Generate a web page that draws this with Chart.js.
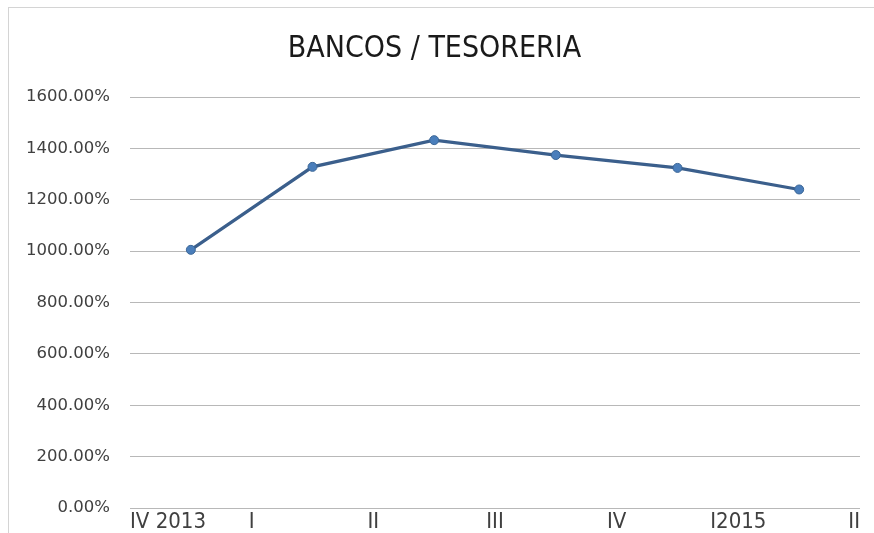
<!DOCTYPE html>
<html>
<head>
<meta charset="utf-8">
<script src="https://cdn.jsdelivr.net/npm/chart.js@4"></script>
<style>
  html, body { margin: 0; padding: 0; background: #fff; }
  #caja {
    position: absolute; left: 8px; top: 7px;
    width: 866px; height: 526px;
    border-left: 1px solid #d4d4d4; border-top: 1px solid #d4d4d4;
  }
</style>
</head>
<body>
<div id="caja"><canvas id="grafica" width="865" height="525"></canvas></div>
<script>
// periodos de los puntos y etiquetas del eje
const categorias = ['IV 2013', 'I', 'II', 'III', 'IV', 'I2015'];
const etiquetasEje = ['IV 2013', 'I', 'II', 'III', 'IV', 'I2015', 'II'];
const valores = [1005, 1328, 1432, 1374, 1324, 1240];
const titulo = 'BANCOS / TESORERIA';

const fuenteCond = "'DejaVu Sans Condensed', 'DejaVu Sans', sans-serif";

new Chart(document.getElementById('grafica'), {
    type: 'line',
    data: {
        labels: categorias,
        datasets: [{
            label: titulo,
            data: valores,
            borderColor: '#3b5f8c',
            borderWidth: 3.2,
            pointRadius: 4.5,
            pointBackgroundColor: '#4a7ebb',
            pointBorderColor: '#3b6696',
            pointBorderWidth: 1,
            tension: 0,
            xAxisID: 'x'
        }]
    },
    options: {
        responsive: false,
        animation: false,
        layout: { padding: { left: 0, right: 14, top: 0, bottom: 0 } },
        plugins: {
            legend: { display: false },
            title: {
                display: true,
                text: titulo,
                color: '#1a1a1a',
                font: { family: fuenteCond, size: 30, weight: 'normal' },
                padding: { top: 23, bottom: 30 }
            }
        },
        scales: {
            x: {
                type: 'category',
                offset: true,
                display: false,
                ticks: { display: false },
                grid: { display: false, drawTicks: false },
                afterFit: (s) => { s.height = 0; }
            },
            x2: {
                type: 'category',
                position: 'bottom',
                labels: etiquetasEje,
                bounds: 'ticks',
                offset: false,
                grid: { display: false, drawTicks: false },
                border: { display: false },
                ticks: {
                    autoSkip: false,
                    maxRotation: 0,
                    align: 'inner',
                    padding: 1,
                    color: '#404040',
                    font: { family: fuenteCond, size: 22 }
                },
                afterFit: (s) => { s.height = 25; }
            },
            y: {
                min: 0,
                max: 1600,
                // hueco entre etiqueta y rejilla con marca invisible
                grid: { color: '#b8b8b8', lineWidth: 1, drawTicks: true, tickLength: 20, tickColor: 'rgba(0,0,0,0)' },
                border: { display: false },
                ticks: {
                    stepSize: 200,
                    padding: 0,
                    color: '#404040',
                    font: { family: "'DejaVu Sans', sans-serif", size: 16.5 },
                    callback: (v) => v.toFixed(2) + '%'
                },
                afterFit: (s) => { s.width = 121; }
            }
        }
    }
});
</script>
</body>
</html>
